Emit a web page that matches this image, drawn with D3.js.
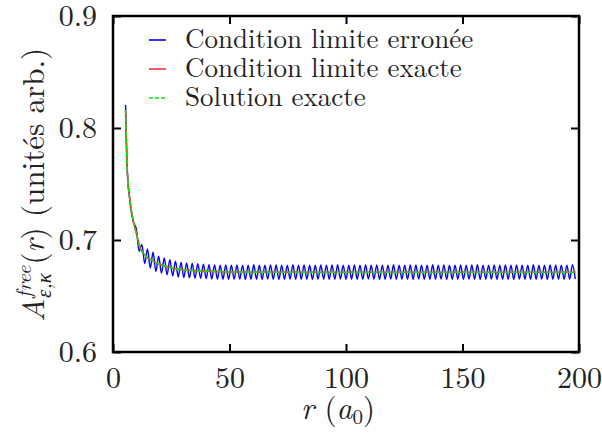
<!DOCTYPE html>
<html>
<head>
<meta charset="utf-8">
<script src="https://cdn.jsdelivr.net/npm/d3@7"></script>
<style>
  body { margin: 0; background: #fff; }
</style>
</head>
<body>
<svg id="chart"></svg>
<script>
// radius sample points (a0) for the smooth curves
const smoothR = [5.4, 5.7, 6.0, 6.4, 7.0, 7.6, 8.6, 10, 11.5, 13.6, 16.4, 20.7, 25, 30.8, 36.5, 45, 60, 100, 150, 198.5];
// exact boundary condition
const redV   = [0.816, 0.790, 0.768, 0.752, 0.740, 0.730, 0.718, 0.706, 0.694, 0.6866, 0.6821, 0.6777, 0.6753, 0.6732, 0.6726, 0.6718, 0.6713, 0.6712, 0.6712, 0.6712];
// exact solution
const greenV = [0.816, 0.790, 0.768, 0.752, 0.740, 0.730, 0.718, 0.706, 0.694, 0.6866, 0.6821, 0.6777, 0.6753, 0.6732, 0.6726, 0.6718, 0.6713, 0.6712, 0.6712, 0.6712];

// wrong boundary condition: start of the curve, then successive extrema of the oscillation
const blueHeadR = [5.4, 5.7, 6.0, 6.4, 7.0, 7.6, 8.6];
const blueHeadV = [0.8205, 0.792, 0.769, 0.752, 0.740, 0.729, 0.717];
const blueStartR = 10;   // first extremum
const blueStepR = 1.2;   // half period of the ripple
const blueExtrema = [
  0.710, 0.690, 0.696, 0.679, 0.692, 0.675, 0.689, 0.672, 0.6855, 0.6705,
  0.684, 0.669, 0.6825, 0.668, 0.681, 0.667, 0.680, 0.6665, 0.6795, 0.6663,
  0.679, 0.6660, 0.6788, 0.6658, 0.6785, 0.6655, 0.678, 0.6652, 0.6778, 0.6650,
  0.6776, 0.6650, 0.6777, 0.6649, 0.6775, 0.6650, 0.6778, 0.6651, 0.6776, 0.6648,
  0.6775, 0.6650, 0.6779, 0.6650, 0.6776, 0.6649, 0.6774, 0.6651, 0.6777, 0.6650,
  0.6778, 0.6648, 0.6775, 0.6650, 0.6776, 0.6651, 0.6779, 0.6649, 0.6775, 0.6650,
  0.6777, 0.6650, 0.6774, 0.6648, 0.6776, 0.6651, 0.6778, 0.6650, 0.6775, 0.6649,
  0.6777, 0.6650, 0.6779, 0.6651, 0.6775, 0.6648, 0.6776, 0.6650, 0.6778, 0.6649,
  0.6774, 0.6650, 0.6777, 0.6651, 0.6775, 0.6650, 0.6778, 0.6648, 0.6776, 0.6650,
  0.6775, 0.6651, 0.6779, 0.6649, 0.6776, 0.6650, 0.6774, 0.6650, 0.6777, 0.6648,
  0.6778, 0.6651, 0.6775, 0.6650, 0.6776, 0.6649, 0.6779, 0.6650, 0.6775, 0.6651,
  0.6777, 0.6648, 0.6774, 0.6650, 0.6776, 0.6650, 0.6778, 0.6649, 0.6775, 0.6651,
  0.6777, 0.6650, 0.6779, 0.6648, 0.6775, 0.6650, 0.6776, 0.6651, 0.6778, 0.6649,
  0.6774, 0.6650, 0.6777, 0.6650, 0.6775, 0.6648, 0.6778, 0.6651, 0.6776, 0.6650,
  0.6775, 0.6649, 0.6779, 0.6650, 0.6776, 0.6651, 0.6774, 0.6648, 0.6777, 0.6650,
  0.6778, 0.6650, 0.6775, 0.6649, 0.6776, 0.6651, 0.6779, 0.6650
];

const xTicks = [0, 50, 100, 150, 200];
const yTicks = [0.6, 0.7, 0.8, 0.9];
const seriesNames = ["Condition limite erronée", "Condition limite exacte", "Solution exacte"];
const seriesColors = ["#0000ff", "#ff3030", "#00ee00"];

const FONT = '"Latin Modern Roman"';

const W = 602, H = 447;
const margin = {top: 16, right: 23, bottom: 95, left: 113};
const width = W - margin.left - margin.right;
const height = H - margin.top - margin.bottom;

const svg = d3.select("#chart").attr("width", W).attr("height", H);
const g = svg.append("g").attr("transform", `translate(${margin.left},${margin.top})`);

const x = d3.scaleLinear().domain([0, 200]).range([0, width]);
const y = d3.scaleLinear().domain([0.6, 0.9]).range([height, 0]);

g.append("defs").append("clipPath").attr("id", "clip")
  .append("rect").attr("width", width).attr("height", height);

// build point lists
const smoothRed = smoothR.map((r, i) => [r, redV[i]]);
const smoothGreen = smoothR.map((r, i) => [r, greenV[i]]);
const bluePts = blueHeadR.map((r, i) => [r, blueHeadV[i]])
  .concat(blueExtrema.map((v, i) => [blueStartR + i * blueStepR, v]));

const line = d3.line().x(d => x(d[0])).y(d => y(d[1])).curve(d3.curveMonotoneX);

const plot = g.append("g").attr("clip-path", "url(#clip)");
plot.append("path").datum(bluePts)
  .attr("d", line).attr("fill", "none").attr("stroke", seriesColors[0]).attr("stroke-width", 1.4);
plot.append("path").datum(smoothRed)
  .attr("d", line).attr("fill", "none").attr("stroke", seriesColors[1]).attr("stroke-width", 1.6);
plot.append("path").datum(smoothGreen)
  .attr("d", line).attr("fill", "none").attr("stroke", seriesColors[2]).attr("stroke-width", 1.6)
  .attr("stroke-dasharray", "5,2");

// axes: ticks inward on all four sides
const tickLen = 8;
const axisStyle = sel => {
  sel.attr("font-family", null).attr("font-size", null);
  sel.select(".domain").remove();
  sel.selectAll(".tick line").attr("stroke", "#000").attr("stroke-width", 2);
  sel.selectAll(".tick text").attr("class", "ticklabel");
};
g.append("g").attr("transform", `translate(0,${height})`)
  .call(d3.axisBottom(x).tickValues(xTicks).tickSize(-tickLen).tickPadding(15).tickFormat(d3.format("d")))
  .call(axisStyle);
g.append("g")
  .call(d3.axisTop(x).tickValues(xTicks).tickSize(-tickLen).tickFormat(""))
  .call(axisStyle);
g.append("g")
  .call(d3.axisLeft(y).tickValues(yTicks).tickSize(-tickLen).tickPadding(16).tickFormat(d3.format(".1f")))
  .call(axisStyle);
g.append("g").attr("transform", `translate(${width},0)`)
  .call(d3.axisRight(y).tickValues(yTicks).tickSize(-tickLen).tickFormat(""))
  .call(axisStyle);

// frame
g.append("rect").attr("width", width).attr("height", height)
  .attr("fill", "none").attr("stroke", "#000").attr("stroke-width", 2.5);

// legend
const legend = g.append("g").attr("transform", "translate(36,24)");
seriesNames.forEach((name, i) => {
  const row = legend.append("g").attr("transform", `translate(0,${i * 29})`);
  row.append("line").attr("x1", 0).attr("x2", 17).attr("y1", 0).attr("y2", 0)
    .attr("stroke", seriesColors[i]).attr("stroke-width", 1.6)
    .attr("stroke-dasharray", i === 2 ? "4,2" : null);
  row.append("text").attr("class", "legendlabel").attr("x", 36).attr("y", 8).text(name);
});

// x axis title
const xt = svg.append("text").attr("class", "title").attr("x", margin.left + width / 2 - 8).attr("y", 419)
  .attr("text-anchor", "middle");
xt.append("tspan").style("font-style", "italic").text("r");
xt.append("tspan").text(" (");
xt.append("tspan").style("font-style", "italic").text("a");
xt.append("tspan").attr("class", "small").attr("dy", 5).text("0");
xt.append("tspan").attr("dy", -5).text(")");

// y axis title: A with stacked super/subscript
const yt = svg.append("g").attr("transform", "translate(44,185) rotate(-90)");
const parts = yt.append("g");
const a = parts.append("text").attr("class", "title").style("font-style", "italic").text("A");
const sup = parts.append("text").attr("class", "small").attr("y", -13).style("font-style", "italic").text("free");
const sub = parts.append("text").attr("class", "small").attr("y", 7).style("font-style", "italic").text("ε,κ");
const rest = parts.append("text").attr("class", "title");
rest.append("tspan").text("(");
rest.append("tspan").style("font-style", "italic").text("r");
rest.append("tspan").text(") (unités arb.)");

// all text in the LaTeX face
svg.selectAll("text").style("font-family", FONT).style("fill", "#222");
svg.selectAll(".ticklabel").style("font-size", "30px");
svg.selectAll(".legendlabel").style("font-size", "27px");
svg.selectAll(".title").style("font-size", "31px");
svg.selectAll(".small").style("font-size", "21px");

let cx = a.node().getComputedTextLength() + 1;
sup.attr("x", cx);
sub.attr("x", cx);
cx += Math.max(sup.node().getComputedTextLength(), sub.node().getComputedTextLength()) + 1;
rest.attr("x", cx);
cx += rest.node().getComputedTextLength();
parts.attr("transform", `translate(${-cx / 2},0)`);
</script>
</body>
</html>
